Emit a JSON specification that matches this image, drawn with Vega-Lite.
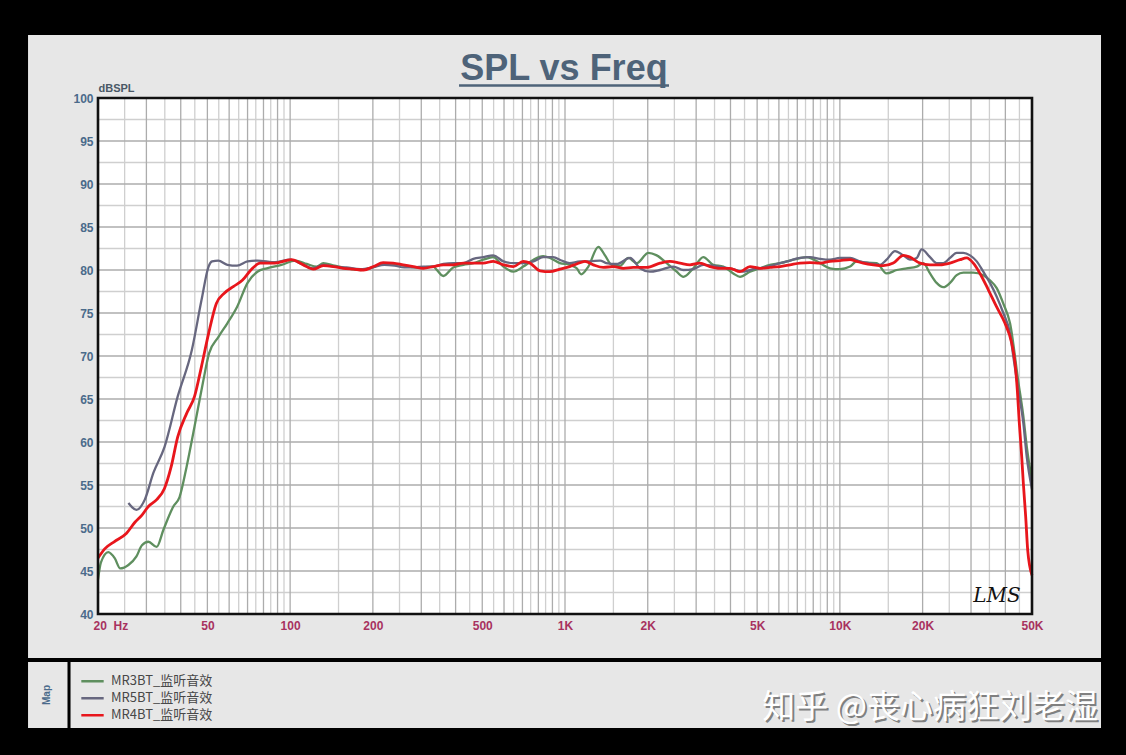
{
  "$schema": "https://vega.github.io/schema/vega-lite/v6.json",
  "width": 934,
  "height": 516,
  "autosize": "none",
  "padding": {"left": 98, "top": 98, "right": 94, "bottom": 141},
  "background": "#000000",
  "config": {
    "view": {"stroke": null},
    "legend": {
      "orient": "none", "legendX": -18, "legendY": 575, "title": null, "padding": 0,
      "symbolType": "stroke", "symbolStrokeWidth": 2.5, "symbolSize": 500,
      "labelFont": "Noto Sans CJK SC", "labelFontSize": 13, "labelColor": "#484848",
      "labelOffset": 6, "rowPadding": 0, "clipHeight": 16.5
    }
  },
  "datasets": {
    "one": [{}],
    "spl": [
      {"series":"MR3BT_监听音效","freq":20,"spl":44.0},{"series":"MR3BT_监听音效","freq":20.5,"spl":46.0},{"series":"MR3BT_监听音效","freq":21.8,"spl":47.2},{"series":"MR3BT_监听音效","freq":23,"spl":46.5},{"series":"MR3BT_监听音效","freq":24.1,"spl":45.3},{"series":"MR3BT_监听音效","freq":25.8,"spl":45.7},{"series":"MR3BT_监听音效","freq":27.6,"spl":46.7},{"series":"MR3BT_监听音效","freq":28.9,"spl":48.0},{"series":"MR3BT_监听音效","freq":30.5,"spl":48.4},{"series":"MR3BT_监听音效","freq":32.7,"spl":47.8},{"series":"MR3BT_监听音效","freq":34.6,"spl":49.8},{"series":"MR3BT_监听音效","freq":37.6,"spl":52.5},{"series":"MR3BT_监听音效","freq":39.6,"spl":53.6},{"series":"MR3BT_监听音效","freq":42,"spl":57.1},{"series":"MR3BT_监听音效","freq":44.9,"spl":61.8},{"series":"MR3BT_监听音效","freq":48.1,"spl":66.8},{"series":"MR3BT_监听音效","freq":50.7,"spl":70.3},{"series":"MR3BT_监听音效","freq":54.8,"spl":72.2},{"series":"MR3BT_监听音效","freq":59.1,"spl":73.8},{"series":"MR3BT_监听音效","freq":64.1,"spl":75.7},{"series":"MR3BT_监听音效","freq":70,"spl":78.5},{"series":"MR3BT_监听音效","freq":76,"spl":79.8},{"series":"MR3BT_监听音效","freq":82.3,"spl":80.2},{"series":"MR3BT_监听音效","freq":93,"spl":80.6},{"series":"MR3BT_监听音效","freq":104.5,"spl":81.1},{"series":"MR3BT_监听音效","freq":115,"spl":80.7},{"series":"MR3BT_监听音效","freq":125,"spl":80.4},{"series":"MR3BT_监听音效","freq":132,"spl":80.8},{"series":"MR3BT_监听音效","freq":145,"spl":80.5},{"series":"MR3BT_监听音效","freq":160,"spl":80.2},{"series":"MR3BT_监听音效","freq":180,"spl":80.0},{"series":"MR3BT_监听音效","freq":200,"spl":80.3},{"series":"MR3BT_监听音效","freq":220,"spl":80.8},{"series":"MR3BT_监听音效","freq":240,"spl":80.7},{"series":"MR3BT_监听音效","freq":260,"spl":80.5},{"series":"MR3BT_监听音效","freq":285,"spl":80.3},{"series":"MR3BT_监听音效","freq":305,"spl":80.3},{"series":"MR3BT_监听音效","freq":330,"spl":80.4},{"series":"MR3BT_监听音效","freq":361,"spl":79.3},{"series":"MR3BT_监听音效","freq":392,"spl":80.3},{"series":"MR3BT_监听音效","freq":427,"spl":80.6},{"series":"MR3BT_监听音效","freq":464,"spl":80.8},{"series":"MR3BT_监听音效","freq":504,"spl":81.2},{"series":"MR3BT_监听音效","freq":548,"spl":81.5},{"series":"MR3BT_监听音效","freq":597,"spl":80.4},{"series":"MR3BT_监听音效","freq":649,"spl":79.8},{"series":"MR3BT_监听音效","freq":705,"spl":80.4},{"series":"MR3BT_监听音效","freq":768,"spl":81.2},{"series":"MR3BT_监听音效","freq":833,"spl":81.6},{"series":"MR3BT_监听音效","freq":882,"spl":81.4},{"series":"MR3BT_监听音效","freq":958,"spl":80.8},{"series":"MR3BT_监听音效","freq":1040,"spl":80.6},{"series":"MR3BT_监听音效","freq":1103,"spl":80.2},{"series":"MR3BT_监听音效","freq":1145,"spl":79.5},{"series":"MR3BT_监听音效","freq":1216,"spl":80.4},{"series":"MR3BT_监听音效","freq":1322,"spl":82.7},{"series":"MR3BT_监听音效","freq":1398,"spl":81.7},{"series":"MR3BT_监听音效","freq":1478,"spl":80.6},{"series":"MR3BT_监听音效","freq":1586,"spl":80.5},{"series":"MR3BT_监听音效","freq":1700,"spl":81.4},{"series":"MR3BT_监听音效","freq":1824,"spl":80.8},{"series":"MR3BT_监听音效","freq":2010,"spl":82.0},{"series":"MR3BT_监听音效","freq":2156,"spl":81.7},{"series":"MR3BT_监听音效","freq":2344,"spl":80.8},{"series":"MR3BT_监听音效","freq":2548,"spl":79.8},{"series":"MR3BT_监听音效","freq":2696,"spl":79.2},{"series":"MR3BT_监听音效","freq":2930,"spl":80.2},{"series":"MR3BT_监听音效","freq":3185,"spl":81.5},{"series":"MR3BT_监听音效","freq":3463,"spl":80.6},{"series":"MR3BT_监听音效","freq":3767,"spl":80.4},{"series":"MR3BT_监听音效","freq":4094,"spl":79.6},{"series":"MR3BT_监听音效","freq":4332,"spl":79.2},{"series":"MR3BT_监听音效","freq":4710,"spl":79.8},{"series":"MR3BT_监听音效","freq":5122,"spl":80.2},{"series":"MR3BT_监听音效","freq":5572,"spl":80.6},{"series":"MR3BT_监听音效","freq":6058,"spl":80.8},{"series":"MR3BT_监听音效","freq":6772,"spl":81.2},{"series":"MR3BT_监听音效","freq":7570,"spl":81.5},{"series":"MR3BT_监听音效","freq":8464,"spl":80.8},{"series":"MR3BT_监听音效","freq":9204,"spl":80.2},{"series":"MR3BT_监听音效","freq":10000,"spl":80.1},{"series":"MR3BT_监听音效","freq":10890,"spl":80.4},{"series":"MR3BT_监听音效","freq":11514,"spl":81.0},{"series":"MR3BT_监听音效","freq":12520,"spl":80.85},{"series":"MR3BT_监听音效","freq":13610,"spl":80.8},{"series":"MR3BT_监听音效","freq":14790,"spl":79.6},{"series":"MR3BT_监听音效","freq":16100,"spl":80.0},{"series":"MR3BT_监听音效","freq":17500,"spl":80.2},{"series":"MR3BT_监听音效","freq":19030,"spl":80.4},{"series":"MR3BT_监听音效","freq":20120,"spl":80.8},{"series":"MR3BT_监听音效","freq":21280,"spl":79.6},{"series":"MR3BT_监听音效","freq":22490,"spl":78.5},{"series":"MR3BT_监听音效","freq":23790,"spl":78.0},{"series":"MR3BT_监听音效","freq":25160,"spl":78.5},{"series":"MR3BT_监听音效","freq":26600,"spl":79.4},{"series":"MR3BT_监听音效","freq":28130,"spl":79.7},{"series":"MR3BT_监听音效","freq":30580,"spl":79.7},{"series":"MR3BT_监听音效","freq":33260,"spl":79.4},{"series":"MR3BT_监听音效","freq":35160,"spl":78.8},{"series":"MR3BT_监听音效","freq":37210,"spl":77.9},{"series":"MR3BT_监听音效","freq":39320,"spl":76.1},{"series":"MR3BT_监听音效","freq":41600,"spl":73.8},{"series":"MR3BT_监听音效","freq":44590,"spl":67.0},{"series":"MR3BT_监听音效","freq":46500,"spl":63.0},{"series":"MR3BT_监听音效","freq":47840,"spl":59.5},{"series":"MR3BT_监听音效","freq":50000,"spl":55.5},

      {"series":"MR5BT_监听音效","freq":25.8,"spl":52.9},{"series":"MR5BT_监听音效","freq":27.6,"spl":52.1},{"series":"MR5BT_监听音效","freq":29.6,"spl":53.3},{"series":"MR5BT_监听音效","freq":31.8,"spl":56.4},{"series":"MR5BT_监听音效","freq":34.9,"spl":59.4},{"series":"MR5BT_监听音效","freq":39,"spl":65.3},{"series":"MR5BT_监听音效","freq":43.9,"spl":70.7},{"series":"MR5BT_监听音效","freq":47.6,"spl":76.5},{"series":"MR5BT_监听音效","freq":50.5,"spl":80.4},{"series":"MR5BT_监听音效","freq":52,"spl":81.0},{"series":"MR5BT_监听音效","freq":54.8,"spl":81.1},{"series":"MR5BT_监听音效","freq":59.1,"spl":80.6},{"series":"MR5BT_监听音效","freq":64.1,"spl":80.5},{"series":"MR5BT_监听音效","freq":70,"spl":81.0},{"series":"MR5BT_监听音效","freq":76,"spl":81.1},{"series":"MR5BT_监听音效","freq":88,"spl":80.9},{"series":"MR5BT_监听音效","freq":100,"spl":81.2},{"series":"MR5BT_监听音效","freq":110,"spl":80.7},{"series":"MR5BT_监听音效","freq":121,"spl":80.2},{"series":"MR5BT_监听音效","freq":132,"spl":80.6},{"series":"MR5BT_监听音效","freq":145,"spl":80.4},{"series":"MR5BT_监听音效","freq":160,"spl":80.3},{"series":"MR5BT_监听音效","freq":180,"spl":80.1},{"series":"MR5BT_监听音效","freq":200,"spl":80.3},{"series":"MR5BT_监听音效","freq":220,"spl":80.6},{"series":"MR5BT_监听音效","freq":240,"spl":80.5},{"series":"MR5BT_监听音效","freq":260,"spl":80.3},{"series":"MR5BT_监听音效","freq":285,"spl":80.3},{"series":"MR5BT_监听音效","freq":305,"spl":80.4},{"series":"MR5BT_监听音效","freq":332,"spl":80.4},{"series":"MR5BT_监听音效","freq":361,"spl":80.7},{"series":"MR5BT_监听音效","freq":392,"spl":80.8},{"series":"MR5BT_监听音效","freq":427,"spl":80.8},{"series":"MR5BT_监听音效","freq":464,"spl":81.3},{"series":"MR5BT_监听音效","freq":504,"spl":81.5},{"series":"MR5BT_监听音效","freq":548,"spl":81.7},{"series":"MR5BT_监听音效","freq":597,"spl":81.0},{"series":"MR5BT_监听音效","freq":649,"spl":80.8},{"series":"MR5BT_监听音效","freq":705,"spl":80.8},{"series":"MR5BT_监听音效","freq":768,"spl":81.0},{"series":"MR5BT_监听音效","freq":833,"spl":81.5},{"series":"MR5BT_监听音效","freq":905,"spl":81.5},{"series":"MR5BT_监听音效","freq":970,"spl":81.1},{"series":"MR5BT_监听音效","freq":1040,"spl":80.8},{"series":"MR5BT_监听音效","freq":1133,"spl":81.0},{"series":"MR5BT_监听音效","freq":1234,"spl":81.0},{"series":"MR5BT_监听音效","freq":1342,"spl":81.1},{"series":"MR5BT_监听音效","freq":1413,"spl":80.8},{"series":"MR5BT_监听音效","freq":1542,"spl":80.7},{"series":"MR5BT_监听音效","freq":1724,"spl":81.4},{"series":"MR5BT_监听音效","freq":1874,"spl":80.2},{"series":"MR5BT_监听音效","freq":2038,"spl":79.8},{"series":"MR5BT_监听音效","freq":2217,"spl":80.0},{"series":"MR5BT_监听音效","freq":2478,"spl":80.4},{"series":"MR5BT_监听音效","freq":2696,"spl":80.0},{"series":"MR5BT_监听音效","freq":2930,"spl":80.1},{"series":"MR5BT_监听音效","freq":3185,"spl":80.6},{"series":"MR5BT_监听音效","freq":3463,"spl":80.5},{"series":"MR5BT_监听音效","freq":3767,"spl":80.3},{"series":"MR5BT_监听音效","freq":4094,"spl":80.1},{"series":"MR5BT_监听音效","freq":4434,"spl":79.8},{"series":"MR5BT_监听音效","freq":4833,"spl":80.1},{"series":"MR5BT_监听音效","freq":5300,"spl":80.3},{"series":"MR5BT_监听音效","freq":5780,"spl":80.6},{"series":"MR5BT_监听音效","freq":6410,"spl":81.0},{"series":"MR5BT_监听音效","freq":7160,"spl":81.4},{"series":"MR5BT_监听音效","freq":7786,"spl":81.5},{"series":"MR5BT_监听音效","freq":8464,"spl":81.3},{"series":"MR5BT_监听音效","freq":9204,"spl":81.2},{"series":"MR5BT_监听音效","freq":10000,"spl":81.4},{"series":"MR5BT_监听音效","freq":10890,"spl":81.4},{"series":"MR5BT_监听音效","freq":11830,"spl":81.0},{"series":"MR5BT_监听音效","freq":12750,"spl":80.8},{"series":"MR5BT_监听音效","freq":13980,"spl":80.6},{"series":"MR5BT_监听音效","freq":14790,"spl":81.2},{"series":"MR5BT_监听音效","freq":15870,"spl":82.2},{"series":"MR5BT_监听音效","freq":17020,"spl":81.7},{"series":"MR5BT_监听音效","freq":17990,"spl":81.2},{"series":"MR5BT_监听音效","freq":19030,"spl":81.4},{"series":"MR5BT_监听音效","freq":19840,"spl":82.4},{"series":"MR5BT_监听音效","freq":21280,"spl":81.5},{"series":"MR5BT_监听音效","freq":22490,"spl":80.8},{"series":"MR5BT_监听音效","freq":23790,"spl":80.8},{"series":"MR5BT_监听音效","freq":25160,"spl":81.4},{"series":"MR5BT_监听音效","freq":26600,"spl":82.0},{"series":"MR5BT_监听音效","freq":28130,"spl":82.0},{"series":"MR5BT_监听音效","freq":29760,"spl":81.7},{"series":"MR5BT_监听音效","freq":31470,"spl":81.0},{"series":"MR5BT_监听音效","freq":33260,"spl":79.8},{"series":"MR5BT_监听音效","freq":35160,"spl":78.5},{"series":"MR5BT_监听音效","freq":37210,"spl":76.9},{"series":"MR5BT_监听音效","freq":39320,"spl":75.0},{"series":"MR5BT_监听音效","freq":41600,"spl":72.6},{"series":"MR5BT_监听音效","freq":42770,"spl":69.9},{"series":"MR5BT_监听音效","freq":44590,"spl":66.0},{"series":"MR5BT_监听音效","freq":46500,"spl":62.2},{"series":"MR5BT_监听音效","freq":47840,"spl":58.3},{"series":"MR5BT_监听音效","freq":50000,"spl":54.5},

      {"series":"MR4BT_监听音效","freq":20,"spl":46.5},{"series":"MR4BT_监听音效","freq":21.2,"spl":47.6},{"series":"MR4BT_监听音效","freq":22.9,"spl":48.4},{"series":"MR4BT_监听音效","freq":25.4,"spl":49.4},{"series":"MR4BT_监听音效","freq":27.3,"spl":50.7},{"series":"MR4BT_监听音效","freq":28.9,"spl":51.5},{"series":"MR4BT_监听音效","freq":30.5,"spl":52.5},{"series":"MR4BT_监听音效","freq":32.7,"spl":53.3},{"series":"MR4BT_监听音效","freq":34.9,"spl":54.6},{"series":"MR4BT_监听音效","freq":36.9,"spl":57.1},{"series":"MR4BT_监听音效","freq":39,"spl":60.6},{"series":"MR4BT_监听音效","freq":42,"spl":63.3},{"series":"MR4BT_监听音效","freq":44.9,"spl":65.3},{"series":"MR4BT_监听音效","freq":47.6,"spl":68.8},{"series":"MR4BT_监听音效","freq":50.5,"spl":72.6},{"series":"MR4BT_监听音效","freq":53.9,"spl":76.1},{"series":"MR4BT_监听音效","freq":57.6,"spl":77.3},{"series":"MR4BT_监听音效","freq":62.3,"spl":78.1},{"series":"MR4BT_监听音效","freq":67,"spl":78.8},{"series":"MR4BT_监听音效","freq":72,"spl":80.0},{"series":"MR4BT_监听音效","freq":77.8,"spl":80.8},{"series":"MR4BT_监听音效","freq":88,"spl":80.8},{"series":"MR4BT_监听音效","freq":101,"spl":81.2},{"series":"MR4BT_监听音效","freq":111.7,"spl":80.6},{"series":"MR4BT_监听音效","freq":121.4,"spl":80.1},{"series":"MR4BT_监听音效","freq":132,"spl":80.5},{"series":"MR4BT_监听音效","freq":143.6,"spl":80.4},{"series":"MR4BT_监听音效","freq":156,"spl":80.2},{"series":"MR4BT_监听音效","freq":170,"spl":80.1},{"series":"MR4BT_监听音效","freq":185,"spl":80.0},{"series":"MR4BT_监听音效","freq":201,"spl":80.4},{"series":"MR4BT_监听音效","freq":218,"spl":80.85},{"series":"MR4BT_监听音效","freq":237,"spl":80.8},{"series":"MR4BT_监听音效","freq":258,"spl":80.6},{"series":"MR4BT_监听音效","freq":281,"spl":80.4},{"series":"MR4BT_监听音效","freq":305,"spl":80.2},{"series":"MR4BT_监听音效","freq":332,"spl":80.4},{"series":"MR4BT_监听音效","freq":361,"spl":80.6},{"series":"MR4BT_监听音效","freq":392,"spl":80.6},{"series":"MR4BT_监听音效","freq":427,"spl":80.8},{"series":"MR4BT_监听音效","freq":464,"spl":80.8},{"series":"MR4BT_监听音效","freq":504,"spl":80.8},{"series":"MR4BT_监听音效","freq":548,"spl":81.0},{"series":"MR4BT_监听音效","freq":597,"spl":80.6},{"series":"MR4BT_监听音效","freq":649,"spl":80.4},{"series":"MR4BT_监听音效","freq":705,"spl":81.0},{"series":"MR4BT_监听音效","freq":746,"spl":80.8},{"series":"MR4BT_监听音效","freq":811,"spl":79.9},{"series":"MR4BT_监听音效","freq":882,"spl":79.8},{"series":"MR4BT_监听音效","freq":958,"spl":80.1},{"series":"MR4BT_监听音效","freq":1040,"spl":80.4},{"series":"MR4BT_监听音效","freq":1103,"spl":80.7},{"series":"MR4BT_监听音效","freq":1182,"spl":81.0},{"series":"MR4BT_监听音效","freq":1268,"spl":80.6},{"series":"MR4BT_监听音效","freq":1378,"spl":80.3},{"series":"MR4BT_监听音效","freq":1498,"spl":80.4},{"series":"MR4BT_监听音效","freq":1630,"spl":80.2},{"series":"MR4BT_监听音效","freq":1772,"spl":80.3},{"series":"MR4BT_监听音效","freq":1982,"spl":80.3},{"series":"MR4BT_监听音效","freq":2217,"spl":80.8},{"series":"MR4BT_监听音效","freq":2410,"spl":81.0},{"series":"MR4BT_监听音效","freq":2620,"spl":80.8},{"series":"MR4BT_监听音效","freq":2848,"spl":80.6},{"series":"MR4BT_监听音效","freq":3097,"spl":80.8},{"series":"MR4BT_监听音效","freq":3366,"spl":80.4},{"series":"MR4BT_监听音效","freq":3663,"spl":80.2},{"series":"MR4BT_监听音效","freq":3981,"spl":80.2},{"series":"MR4BT_监听音效","freq":4332,"spl":79.8},{"series":"MR4BT_监听音效","freq":4710,"spl":80.4},{"series":"MR4BT_监听音效","freq":5122,"spl":80.2},{"series":"MR4BT_监听音效","freq":5572,"spl":80.3},{"series":"MR4BT_监听音效","freq":6058,"spl":80.4},{"series":"MR4BT_监听音效","freq":6586,"spl":80.6},{"series":"MR4BT_监听音效","freq":7160,"spl":80.8},{"series":"MR4BT_监听音效","freq":7786,"spl":80.85},{"series":"MR4BT_监听音效","freq":8464,"spl":80.8},{"series":"MR4BT_监听音效","freq":9204,"spl":81.0},{"series":"MR4BT_监听音效","freq":10000,"spl":81.1},{"series":"MR4BT_监听音效","freq":10890,"spl":81.2},{"series":"MR4BT_监听音效","freq":11514,"spl":81.0},{"series":"MR4BT_监听音效","freq":12164,"spl":80.8},{"series":"MR4BT_监听音效","freq":13233,"spl":80.6},{"series":"MR4BT_监听音效","freq":14390,"spl":80.5},{"series":"MR4BT_监听音效","freq":15646,"spl":80.8},{"series":"MR4BT_监听音效","freq":17020,"spl":81.7},{"series":"MR4BT_监听音效","freq":17990,"spl":81.5},{"series":"MR4BT_监听音效","freq":19572,"spl":80.8},{"series":"MR4BT_监听音效","freq":21280,"spl":80.6},{"series":"MR4BT_监听音效","freq":23140,"spl":80.6},{"series":"MR4BT_监听音效","freq":25160,"spl":80.8},{"series":"MR4BT_监听音效","freq":27360,"spl":81.2},{"series":"MR4BT_监听音效","freq":28920,"spl":81.4},{"series":"MR4BT_监听音效","freq":30580,"spl":80.8},{"series":"MR4BT_监听音效","freq":32340,"spl":79.6},{"series":"MR4BT_监听音效","freq":34680,"spl":77.7},{"series":"MR4BT_监听音效","freq":37190,"spl":75.7},{"series":"MR4BT_监听音效","freq":39880,"spl":73.8},{"series":"MR4BT_监听音效","freq":42180,"spl":71.5},{"series":"MR4BT_监听音效","freq":43360,"spl":69.2},{"series":"MR4BT_监听音效","freq":44220,"spl":66.0},{"series":"MR4BT_监听音效","freq":44960,"spl":62.2},{"series":"MR4BT_监听音效","freq":45870,"spl":58.3},{"series":"MR4BT_监听音效","freq":46500,"spl":55.2},{"series":"MR4BT_监听音效","freq":47430,"spl":51.3},{"series":"MR4BT_监听音效","freq":48240,"spl":47.4},{"series":"MR4BT_监听音效","freq":50000,"spl":44.5}
    ],
    "gridMinorF": [{"freq":25},{"freq":35},{"freq":45},{"freq":55},{"freq":65},{"freq":75},{"freq":85},{"freq":95},{"freq":150},{"freq":250},{"freq":350},{"freq":450},{"freq":550},{"freq":650},{"freq":750},{"freq":850},{"freq":950},{"freq":1500},{"freq":2500},{"freq":3500},{"freq":4500},{"freq":5500},{"freq":6500},{"freq":7500},{"freq":8500},{"freq":9500},{"freq":15000},{"freq":25000},{"freq":35000},{"freq":45000}],
    "gridMajorF": [{"freq":30},{"freq":40},{"freq":50},{"freq":60},{"freq":70},{"freq":80},{"freq":90},{"freq":100},{"freq":200},{"freq":300},{"freq":400},{"freq":500},{"freq":600},{"freq":700},{"freq":800},{"freq":900},{"freq":1000},{"freq":2000},{"freq":3000},{"freq":4000},{"freq":5000},{"freq":6000},{"freq":7000},{"freq":8000},{"freq":9000},{"freq":10000},{"freq":20000},{"freq":30000},{"freq":40000}],
    "gridMinorY": [{"spl":42.5},{"spl":47.5},{"spl":52.5},{"spl":57.5},{"spl":62.5},{"spl":67.5},{"spl":72.5},{"spl":77.5},{"spl":82.5},{"spl":87.5},{"spl":92.5},{"spl":97.5}],
    "gridMajorY": [{"spl":45},{"spl":50},{"spl":55},{"spl":60},{"spl":65},{"spl":70},{"spl":75},{"spl":80},{"spl":85},{"spl":90},{"spl":95}]
  },
  "layer": [
    {
      "data": {"name": "one"},
      "mark": {"type": "rect", "fill": "#e7e7e7"},
      "encoding": {
        "x": {"datum": 11.13, "type": "quantitative", "scale": {"type": "log", "domain": [20, 50000], "nice": false}, "axis": {
          "values": [20, 50, 100, 200, 500, 1000, 2000, 5000, 10000, 20000, 50000],
          "labelExpr": "datum.value == 20 ? '20\u00a0\u00a0Hz' : datum.value >= 1000 ? (datum.value / 1000) + 'K' : '' + datum.value",
          "title": null, "grid": false, "domain": false, "ticks": false, "zindex": 2,
          "labelFlush": false, "labelOverlap": false, "labelBound": false,
          "labelAlign": {"condition": {"test": "datum.value == 20", "value": "left"}, "value": "center"},
          "labelOffset": {"condition": {"test": "datum.value == 20", "value": -5}, "value": 0},
          "labelPadding": 6, "labelColor": "#a8325f", "labelFont": "Liberation Sans", "labelFontSize": 12, "labelFontWeight": "bold"
        }},
        "x2": {"datum": 89130},
        "y": {"datum": 34.88, "type": "quantitative", "scale": {"domain": [40, 100], "nice": false, "zero": false}, "axis": {
          "values": [40, 45, 50, 55, 60, 65, 70, 75, 80, 85, 90, 95, 100],
          "title": "dBSPL", "titleAngle": 0, "titleAlign": "left", "titleBaseline": "alphabetic", "titleX": 0, "titleY": -7,
          "titleFont": "Liberation Sans", "titleFontSize": 11, "titleFontWeight": "bold", "titleColor": "#4a5866",
          "grid": false, "domain": false, "ticks": false, "zindex": 2, "labelOverlap": false,
          "labelPadding": 5, "labelColor": "#4b6b8b", "labelFont": "Liberation Sans", "labelFontSize": 12, "labelFontWeight": "bold"
        }},
        "y2": {"datum": 107.33}
      }
    },
    {
      "data": {"name": "one"},
      "mark": {"type": "rect", "fill": "#e7e7e7"},
      "encoding": {
        "x": {"datum": 11.13, "type": "quantitative"}, "x2": {"datum": 15.49},
        "y": {"datum": 26.74, "type": "quantitative"}, "y2": {"datum": 34.42}
      }
    },
    {
      "data": {"name": "one"},
      "mark": {"type": "rect", "fill": "#e7e7e7"},
      "encoding": {
        "x": {"datum": 15.89, "type": "quantitative"}, "x2": {"datum": 89130},
        "y": {"datum": 26.74, "type": "quantitative"}, "y2": {"datum": 34.42}
      }
    },
    {
      "data": {"name": "one"},
      "mark": {"type": "rect", "fill": "#ffffff"},
      "encoding": {
        "x": {"datum": 20, "type": "quantitative"}, "x2": {"datum": 50000},
        "y": {"datum": 40, "type": "quantitative"}, "y2": {"datum": 100}
      }
    },
    {
      "data": {"name": "gridMinorF"},
      "mark": {"type": "rule", "stroke": "#cfcfcf", "strokeWidth": 1.3},
      "encoding": {"x": {"field": "freq", "type": "quantitative"}, "y": {"datum": 40, "type": "quantitative"}, "y2": {"datum": 100}}
    },
    {
      "data": {"name": "gridMinorY"},
      "mark": {"type": "rule", "stroke": "#cfcfcf", "strokeWidth": 1.3},
      "encoding": {"y": {"field": "spl", "type": "quantitative"}, "x": {"datum": 20, "type": "quantitative"}, "x2": {"datum": 50000}}
    },
    {
      "data": {"name": "gridMajorF"},
      "mark": {"type": "rule", "stroke": "#acacac", "strokeWidth": 1.3},
      "encoding": {"x": {"field": "freq", "type": "quantitative"}, "y": {"datum": 40, "type": "quantitative"}, "y2": {"datum": 100}}
    },
    {
      "data": {"name": "gridMajorY"},
      "mark": {"type": "rule", "stroke": "#acacac", "strokeWidth": 1.3},
      "encoding": {"y": {"field": "spl", "type": "quantitative"}, "x": {"datum": 20, "type": "quantitative"}, "x2": {"datum": 50000}}
    },
    {
      "data": {"name": "spl"},
      "transform": [{"filter": "datum.series == 'MR3BT_监听音效'"}],
      "mark": {"type": "line", "strokeWidth": 2.3, "interpolate": "monotone"},
      "encoding": {
        "x": {"field": "freq", "type": "quantitative"},
        "y": {"field": "spl", "type": "quantitative"},
        "color": {"field": "series", "type": "nominal", "scale": {"domain": ["MR3BT_监听音效", "MR5BT_监听音效", "MR4BT_监听音效"], "range": ["#5f8f5f", "#67677f", "#e8161c"]}}
      }
    },
    {
      "data": {"name": "spl"},
      "transform": [{"filter": "datum.series == 'MR5BT_监听音效'"}],
      "mark": {"type": "line", "strokeWidth": 2.3, "interpolate": "monotone"},
      "encoding": {
        "x": {"field": "freq", "type": "quantitative"},
        "y": {"field": "spl", "type": "quantitative"},
        "color": {"field": "series", "type": "nominal"}
      }
    },
    {
      "data": {"name": "spl"},
      "transform": [{"filter": "datum.series == 'MR4BT_监听音效'"}],
      "mark": {"type": "line", "strokeWidth": 2.8, "interpolate": "monotone"},
      "encoding": {
        "x": {"field": "freq", "type": "quantitative"},
        "y": {"field": "spl", "type": "quantitative"},
        "color": {"field": "series", "type": "nominal"}
      }
    },
    {
      "data": {"name": "one"},
      "mark": {"type": "rect", "fill": null, "stroke": "#111111", "strokeWidth": 2.6},
      "encoding": {
        "x": {"datum": 20, "type": "quantitative"}, "x2": {"datum": 50000},
        "y": {"datum": 40, "type": "quantitative"}, "y2": {"datum": 100}
      }
    },
    {
      "data": {"name": "one"},
      "mark": {"type": "text", "text": "LMS", "font": "DejaVu Serif", "fontStyle": "italic", "fontSize": 20, "color": "#111111", "align": "center", "baseline": "middle"},
      "encoding": {"x": {"datum": 37300, "type": "quantitative"}, "y": {"datum": 42.09, "type": "quantitative"}}
    },
    {
      "data": {"name": "one"},
      "mark": {"type": "text", "text": "SPL vs Freq", "font": "Liberation Sans", "fontWeight": "bold", "fontSize": 36, "color": "#4e6379", "align": "center", "baseline": "alphabetic"},
      "encoding": {"x": {"datum": 991, "type": "quantitative"}, "y": {"datum": 102.09, "type": "quantitative"}}
    },
    {
      "data": {"name": "one"},
      "mark": {"type": "rule", "stroke": "#4e6379", "strokeWidth": 2.5},
      "encoding": {"x": {"datum": 411.6, "type": "quantitative"}, "x2": {"datum": 2390}, "y": {"datum": 101.45, "type": "quantitative"}}
    },
    {
      "data": {"name": "one"},
      "mark": {"type": "text", "text": "Map", "font": "Liberation Sans", "fontWeight": "bold", "fontSize": 10, "color": "#4b6b8b", "align": "center", "baseline": "middle", "angle": 270},
      "encoding": {"x": {"datum": 13.05, "type": "quantitative"}, "y": {"datum": 30.58, "type": "quantitative"}}
    },
    {
      "data": {"name": "one"},
      "mark": {"type": "text", "text": "知乎  @丧心病狂刘老湿", "font": "Noto Sans CJK SC", "fontSize": 33, "color": "#555555", "opacity": 0.7, "align": "right", "baseline": "middle", "dx": 2, "dy": 2},
      "encoding": {"x": {"datum": 86860, "type": "quantitative"}, "y": {"datum": 29.07, "type": "quantitative"}}
    },
    {
      "data": {"name": "one"},
      "mark": {"type": "text", "text": "知乎  @丧心病狂刘老湿", "font": "Noto Sans CJK SC", "fontSize": 33, "color": "#ffffff", "align": "right", "baseline": "middle"},
      "encoding": {"x": {"datum": 86860, "type": "quantitative"}, "y": {"datum": 29.07, "type": "quantitative"}}
    }
  ]
}
